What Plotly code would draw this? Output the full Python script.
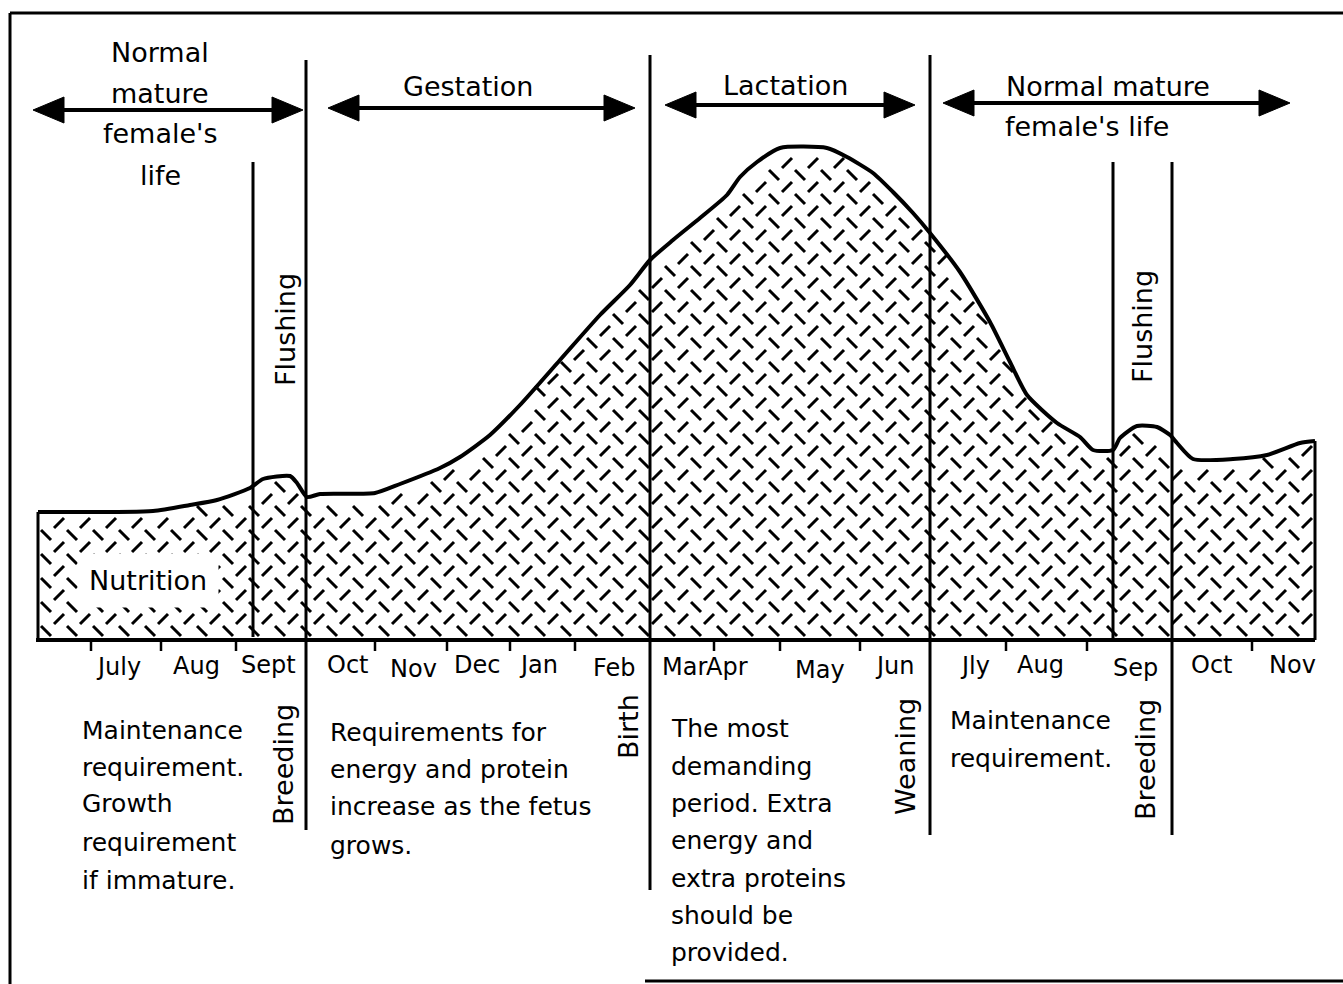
import numpy as np
import plotly.graph_objects as go

# ---- data -------------------------------------------------------------
# position along the breeding-year timeline and nutrition requirement level
curve_x = [38, 153, 190, 217, 250, 263, 290, 297, 307, 320, 375, 400, 440,
           460, 490, 520, 560, 600, 630, 650, 673, 700, 727, 740, 757, 780,
           827, 847, 873, 893, 913, 930, 960, 990, 1010, 1027, 1057, 1080,
           1093, 1113, 1120, 1137, 1157, 1170, 1177, 1193, 1233, 1267, 1300,
           1315]
curve_level = [128, 129, 135, 140, 152, 161, 164, 157, 143, 146, 147, 156,
               172, 183, 205, 235, 280, 325, 355, 380, 400, 422, 445, 463,
               478, 492, 492, 483, 467, 448, 427, 407, 368, 318, 278, 245,
               217, 203, 190, 190, 202, 214, 213, 205, 197, 181, 181, 185,
               197, 199]

tick_x = [91, 161, 236, 375, 447, 510, 575, 714, 780, 860, 1006, 1087, 1252]

month_labels = ["July", "Aug", "Sept", "Oct", "Nov", "Dec", "Jan", "Feb",
                "Mar", "Apr", "May", "Jun", "Jly", "Aug", "Sep", "Oct", "Nov"]
month_x = [118, 196, 268, 348, 413, 477, 538, 614, 684, 727, 820, 895, 975,
           1040, 1135, 1212, 1292]
month_level = [-27, -26, -25, -25, -29, -25, -25, -28, -27, -27, -30, -26,
               -26, -25, -28, -25, -25]

# event markers: x position, top and bottom of the divider
event_x = [253, 306, 650, 930, 1113, 1172]
event_top = [478, 580, 585, 585, 478, 478]
event_bottom = [3, -190, -250, -195, 0, -195]

# rotated event names
event_labels = ["Flushing", "Breeding", "Birth", "Weaning", "Flushing", "Breeding"]
event_label_x = [285, 283, 628, 905, 1142, 1145]
event_label_level = [310, -125, -87, -117, 313, -120]

# phase headings and their arrow spans
phase_lines = [
    ("Normal", 160, 588), ("mature", 160, 547), ("female's", 160, 507),
    ("life", 160, 465), ("Gestation", 468, 554), ("Lactation", 785, 555),
    ("Normal mature", 1108, 554), ("female's life", 1087, 514),
]
arrow_start = [33, 328, 665, 943]
arrow_end = [303, 635, 915, 1290]
arrow_level = [530, 532, 535, 537]

# description blocks: left edge, line levels, lines
descriptions = [
    (80, [-90, -127, -163, -202, -240],
     ["Maintenance", "requirement.", "Growth", "requirement", "if immature."]),
    (328, [-92, -129, -166, -205],
     ["Requirements for", "energy and protein", "increase as the fetus", "grows."]),
    (669, [-88, -126, -163, -200, -238, -275, -312],
     ["The most", "demanding", "period. Extra", "energy and",
      "extra proteins", "should be", "provided."]),
    (948, [-80, -118], ["Maintenance", "requirement."]),
]

# ---- figure -----------------------------------------------------------
FONT = "DejaVu Sans"
INK = "black"
fig = go.Figure()

x0, x1 = curve_x[0], curve_x[-1]

# filled nutrition area
poly_x = [x0] + curve_x + [x1, x0]
poly_y = [0] + curve_level + [0, 0]
fig.add_trace(go.Scatter(x=poly_x, y=poly_y, mode="lines", fill="toself",
                         fillcolor="white", line=dict(width=0),
                         hoverinfo="skip"))

# dashed diamond-plate texture clipped to the area
gx = np.arange(x0 + 8, x1 - 6, 26)
gy = np.arange(9, 520, 24)
GX, GY = np.meshgrid(gx, gy)
GX, GY = GX.ravel().astype(float), GY.ravel().astype(float)
ceil_a = np.interp(GX, curve_x, curve_level)
keep_a = GY < ceil_a - 8
BX, BY = GX + 13, GY + 12
ceil_b = np.interp(BX, curve_x, curve_level)
keep_b = (BY < ceil_b - 8) & (BX < x1 - 6)
fig.add_trace(go.Scatter(x=GX[keep_a], y=GY[keep_a], mode="markers",
                         marker=dict(symbol="line-nw", size=10,
                                     line=dict(color=INK, width=3)),
                         hoverinfo="skip"))
fig.add_trace(go.Scatter(x=BX[keep_b], y=BY[keep_b], mode="markers",
                         marker=dict(symbol="line-ne", size=10,
                                     line=dict(color=INK, width=3)),
                         hoverinfo="skip"))

# outline: smooth top curve plus the side edges
fig.add_trace(go.Scatter(x=curve_x, y=curve_level, mode="lines",
                         line=dict(color=INK, width=4, shape="spline",
                                   smoothing=0.6),
                         hoverinfo="skip"))
fig.add_trace(go.Scatter(x=[x0, x0, None, x1, x1],
                         y=[curve_level[0], 0, None, curve_level[-1], 0],
                         mode="lines", line=dict(color=INK, width=3),
                         hoverinfo="skip"))

# baseline and month ticks
fig.add_trace(go.Scatter(x=[36, x1], y=[0, 0], mode="lines",
                         line=dict(color=INK, width=4), hoverinfo="skip"))
tx, ty = [], []
for t in tick_x:
    tx += [t, t, None]
    ty += [0, -11, None]
fig.add_trace(go.Scatter(x=tx, y=ty, mode="lines",
                         line=dict(color=INK, width=2.5), hoverinfo="skip"))

# event dividers
vx, vy = [], []
for ex, et, eb in zip(event_x, event_top, event_bottom):
    vx += [ex, ex, None]
    vy += [et, eb, None]
fig.add_trace(go.Scatter(x=vx, y=vy, mode="lines",
                         line=dict(color=INK, width=3), hoverinfo="skip"))

# phase arrows
shapes = []
HEAD_L, HEAD_H = 31, 13
for a, b, lv in zip(arrow_start, arrow_end, arrow_level):
    shapes.append(dict(type="line", x0=a + 10, x1=b - 10, y0=lv, y1=lv,
                       xref="x", yref="y", line=dict(color=INK, width=4)))
    shapes.append(dict(type="path", xref="x", yref="y", fillcolor=INK,
                       line=dict(color=INK, width=1),
                       path=f"M{a},{lv} L{a + HEAD_L},{lv + HEAD_H} "
                            f"L{a + HEAD_L},{lv - HEAD_H} Z"))
    shapes.append(dict(type="path", xref="x", yref="y", fillcolor=INK,
                       line=dict(color=INK, width=1),
                       path=f"M{b},{lv} L{b - HEAD_L},{lv + HEAD_H} "
                            f"L{b - HEAD_L},{lv - HEAD_H} Z"))

# outer frame
shapes += [
    dict(type="line", xref="x", yref="y", x0=10, x1=1343, y0=627, y1=627,
         line=dict(color=INK, width=3)),
    dict(type="line", xref="x", yref="y", x0=10, x1=10, y0=627, y1=-344,
         line=dict(color=INK, width=3)),
    dict(type="line", xref="x", yref="y", x0=645, x1=1343, y0=-341, y1=-341,
         line=dict(color=INK, width=3)),
]

annotations = []


def label(text, x, y, size, xanchor="center", angle=0, bg=None, pad=1):
    d = dict(text=text, x=x, y=y, xref="x", yref="y", showarrow=False,
             xanchor=xanchor, yanchor="middle", textangle=angle,
             font=dict(family=FONT, size=size, color=INK), borderpad=pad)
    if bg:
        d.update(bgcolor=bg)
    annotations.append(d)


for text, x, y in phase_lines:
    label(text, x, y, 27)
for text, x, y in zip(month_labels, month_x, month_level):
    label(text, x, y, 24)
for text, x, y in zip(event_labels, event_label_x, event_label_level):
    label(text, x, y, 27, angle=-90)
for left, levels, lines in descriptions:
    for text, y in zip(lines, levels):
        label(text, left, y, 25, xanchor="left")
label("Nutrition", 148, 60, 27, bg="white", pad=11)

fig.update_layout(
    width=1343, height=984, margin=dict(l=0, r=0, t=0, b=0),
    paper_bgcolor="white", plot_bgcolor="white", showlegend=False,
    xaxis=dict(range=[0, 1343], visible=False, fixedrange=True),
    yaxis=dict(range=[-344, 640], visible=False, fixedrange=True),
    shapes=shapes, annotations=annotations,
)

fig.write_html("out.html")
